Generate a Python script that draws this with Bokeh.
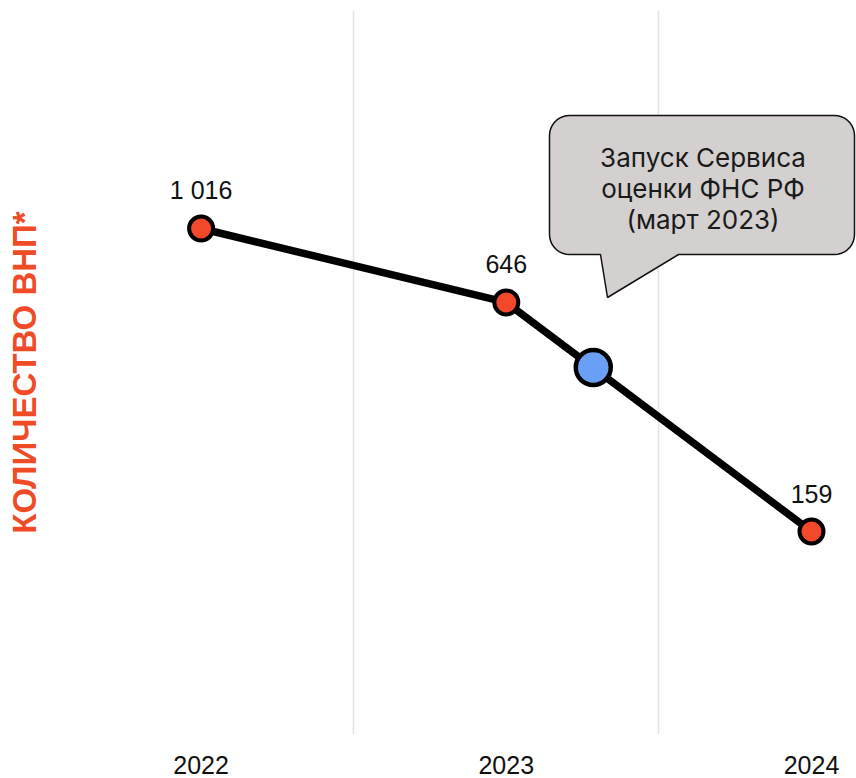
import numpy as np
from bokeh.plotting import figure
from bokeh.models import FixedTicker, Range1d
from bokeh.core.properties import value
from bokeh.embed import file_html
from bokeh.resources import INLINE

# ---- data ----
years = [2022, 2023, 2024]
counts = [1016, 646, 159]
count_labels = ["1 016", "646", "159"]
year_labels = {2022: "2022", 2023: "2023", 2024: "2024"}
event_year = [2023.285]
event_count = [434]
callout_lines = ["Запуск Сервиса", "оценки ФНС РФ", "(март 2023)"]
y_title = "КОЛИЧЕСТВО ВНП*"

# ---- figure / scales ----
W, H = 856, 778
FL, FT = 48, 10           # frame left/top in figure px
FW, FH = 808, 724         # frame size
x0, x1 = 2021.5, 2024.1475
ly0, ly1 = 1.6618, 3.5864  # log10 range

p = figure(width=W, height=H, output_backend="svg", toolbar_location=None,
           x_range=Range1d(x0, x1), y_range=Range1d(10**ly0, 10**ly1),
           y_axis_type="log", min_border_left=FL, min_border_top=FT,
           min_border_right=0, min_border_bottom=H - FT - FH)
p.outline_line_color = None
p.background_fill_color = "white"

# grid
p.xgrid.ticker = FixedTicker(ticks=[2021.5, 2022.5, 2023.5, 2024.5])
p.xgrid.grid_line_color = "#e3e3e3"
p.xgrid.grid_line_width = 1.5
p.ygrid.grid_line_color = None

# x axis
p.xaxis.ticker = FixedTicker(ticks=years)
p.xaxis.major_label_overrides = year_labels
p.xaxis.axis_line_color = None
p.xaxis.major_tick_line_color = None
p.xaxis.minor_tick_line_color = None
p.xaxis.major_tick_out = 0
p.xaxis.major_label_standoff = 21
p.xaxis.major_label_text_font = "Liberation Sans"
p.xaxis.major_label_text_font_size = "25px"
p.xaxis.major_label_text_color = "#111111"

# y axis -> only the title
p.yaxis.ticker = FixedTicker(ticks=[])
p.yaxis.axis_line_color = None
p.yaxis.major_tick_line_color = None
p.yaxis.minor_tick_line_color = None
p.yaxis.major_label_text_font_size = "0px"
p.yaxis.major_label_standoff = 0
p.yaxis.axis_label = y_title
p.yaxis.axis_label_text_font = "Liberation Sans"
p.yaxis.axis_label_text_font_style = "bold"
p.yaxis.axis_label_text_font_size = "33px"
p.yaxis.axis_label_text_color = "#f04b27"
p.yaxis.axis_label_standoff = 6


# pixel (page coords) -> data helpers for the callout shape
def px_to_x(px):
    return x0 + (px - FL) / FW * (x1 - x0)


def py_to_y(py):
    return 10 ** (ly1 - (py - FT) / FH * (ly1 - ly0))


# callout shape (page pixels)
bx0, bx1, by0, by1, r = 549, 854, 115, 254, 20
tail = [(678, 254), (607, 297), (600, 254)]
pts = []
def arc(cx, cy, a0, a1):
    for a in np.linspace(a0, a1, 10):
        pts.append((cx + r * np.cos(a), cy + r * np.sin(a)))
arc(bx0 + r, by0 + r, np.pi, 1.5 * np.pi)
arc(bx1 - r, by0 + r, 1.5 * np.pi, 2 * np.pi)
arc(bx1 - r, by1 - r, 0, 0.5 * np.pi)
pts.extend(tail)
arc(bx0 + r, by1 - r, 0.5 * np.pi, np.pi)
pts.append(pts[0])
p.patch([px_to_x(a) for a, b in pts], [py_to_y(b) for a, b in pts],
        fill_color="#d3d0cf", line_color="#111111", line_width=1.5)

cx = (bx0 + bx1) / 2 + 1
p.text([px_to_x(cx)] * 3, [py_to_y(v) for v in (157, 188, 219)], text=callout_lines,
       text_align="center", text_baseline="alphabetic",
       text_font=value("Inter"), text_font_size="26px", text_color="#1a1a1a")

# line and points
p.line(years, counts, line_color="black", line_width=7.5)
p.scatter(event_year, event_count, size=35, fill_color="#6a9ff6",
          line_color="black", line_width=4.5)
p.scatter(years, counts, size=24, fill_color="#f2492b",
          line_color="black", line_width=4)

p.text(years, counts, text=count_labels, text_align="center",
       text_baseline="alphabetic", y_offset=-38,
       text_font=value("Liberation Sans"), text_font_size="25px",
       text_color="#111111")

open("out.html", "w").write(file_html(p, INLINE))
